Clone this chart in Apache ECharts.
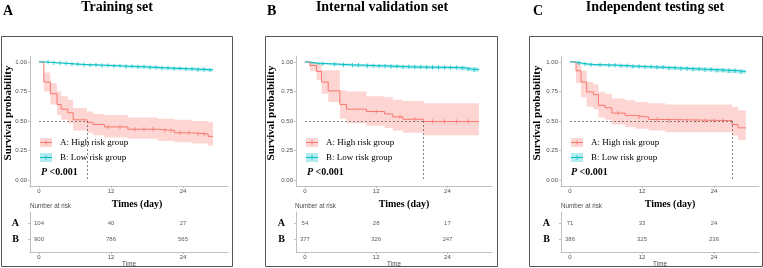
<!DOCTYPE html>
<html>
<head>
<meta charset="utf-8">
<script src="https://cdn.jsdelivr.net/npm/echarts@6/dist/echarts.min.js"></script>
<style>
html, body { margin: 0; padding: 0; background: #fff; }
#main { width: 763px; height: 268px; }
</style>
</head>
<body>
<div id="main"></div>
<script>
var panelLetters = ['A', 'B', 'C'];
var panelTitles = ['Training set', 'Internal validation set', 'Independent testing set'];
var groupNames = ['A: High risk group', 'B: Low risk group'];
var pValueText = '<0.001';
var xTicks = [0, 12, 24];
var yTicks = [0, 0.25, 0.5, 0.75, 1];
var riskRows = ['B', 'A'];

// training set
var highTimeA = [0, 0.8, 1.9, 3.0, 3.7, 4.8, 5.7, 8.0, 9.0, 10.9, 14.8, 19.8, 22.6, 25.4, 28.2, 29];
var highSurvA = [1, 0.83, 0.73, 0.64, 0.60, 0.57, 0.51, 0.49, 0.47, 0.45, 0.43, 0.42, 0.40, 0.39, 0.37, 0.37];
var highUpA   = [1, 0.91, 0.82, 0.75, 0.71, 0.68, 0.61, 0.58, 0.56, 0.55, 0.53, 0.52, 0.51, 0.50, 0.49, 0.49];
var highLoA   = [1, 0.75, 0.64, 0.55, 0.51, 0.48, 0.42, 0.40, 0.38, 0.36, 0.35, 0.33, 0.32, 0.31, 0.29, 0.29];
var highCensorA = [11.5, 13.5, 16, 17.5, 19, 21, 22, 23.5, 25, 26.5, 27.5];
var lowTimeA = [0, 1, 2, 3, 4, 5, 6, 7, 8, 10, 12, 14, 16, 18, 20, 22, 24, 26, 28, 29];
var lowSurvA = [1, 0.997, 0.993, 0.99, 0.987, 0.983, 0.98, 0.977, 0.974, 0.97, 0.966, 0.962, 0.958, 0.953, 0.948, 0.944, 0.94, 0.936, 0.932, 0.932];
var lowUpA   = [1, 0.999, 0.997, 0.995, 0.993, 0.99, 0.987, 0.985, 0.982, 0.979, 0.976, 0.972, 0.969, 0.965, 0.96, 0.957, 0.953, 0.949, 0.945, 0.945];
var lowLoA   = [1, 0.993, 0.988, 0.984, 0.98, 0.976, 0.972, 0.969, 0.965, 0.961, 0.956, 0.951, 0.947, 0.941, 0.936, 0.931, 0.927, 0.922, 0.918, 0.918];
var lowCensorA = [1.5, 2.5, 3.5, 4.5, 5.5, 6.5, 7.5, 8.5, 9.5, 10.5, 11.5, 12.5, 13.5, 14.5, 15.5, 16.5, 17.5, 18.5, 19.5, 20.5, 21.5, 22.5, 23.5, 24.5, 25.5, 26.5, 27.5, 28.5];
var medianA = 8.0;
var riskHighA = [104, 40, 27];
var riskLowA = [900, 786, 565];

// internal validation set
var highTimeB = [0, 0.84, 1.96, 2.8, 3.92, 5.88, 7.0, 10.36, 13.4, 14.8, 16.5, 20.0, 29.3];
var highSurvB = [1, 0.97, 0.92, 0.83, 0.755, 0.64, 0.60, 0.58, 0.56, 0.535, 0.515, 0.495, 0.495];
var highUpB   = [1, 1.0, 0.99, 0.93, 0.93, 0.76, 0.75, 0.71, 0.70, 0.68, 0.67, 0.65, 0.65];
var highLoB   = [1, 0.92, 0.85, 0.73, 0.66, 0.52, 0.48, 0.46, 0.44, 0.42, 0.40, 0.38, 0.38];
var highCensorB = [12, 16, 18.5, 21.5, 23.5, 25.5, 27.5];
var lowTimeB = [0, 0.8, 2, 4, 6, 8, 10, 12, 14, 16, 18, 20, 22, 24, 26, 27.2, 28, 29.3];
var lowSurvB = [1, 0.99, 0.985, 0.98, 0.975, 0.972, 0.968, 0.966, 0.962, 0.958, 0.956, 0.955, 0.953, 0.952, 0.948, 0.94, 0.935, 0.935];
var lowUpB   = [1, 0.997, 0.993, 0.99, 0.986, 0.983, 0.98, 0.978, 0.975, 0.971, 0.969, 0.968, 0.967, 0.966, 0.963, 0.956, 0.952, 0.952];
var lowLoB   = [1, 0.98, 0.975, 0.969, 0.963, 0.959, 0.955, 0.952, 0.948, 0.944, 0.942, 0.941, 0.939, 0.937, 0.932, 0.923, 0.917, 0.917];
var lowCensorB = [3, 5, 6.5, 8, 9, 10.5, 11.5, 12.5, 13.5, 14.5, 15.5, 16.5, 17.5, 18.5, 19.5, 20.5, 21.5, 22.5, 23.5, 24.5, 25.5, 26.5, 27.5, 28.5];
var medianB = 20.0;
var riskHighB = [54, 28, 17];
var riskLowB = [377, 326, 247];

// independent testing set
var highTimeC = [0, 1.0, 1.84, 2.79, 3.9, 4.74, 5.85, 6.97, 9.2, 10.87, 13.1, 15.9, 27.0, 28.0, 29.3];
var highSurvC = [1, 0.925, 0.83, 0.746, 0.723, 0.632, 0.612, 0.567, 0.547, 0.533, 0.513, 0.503, 0.47, 0.442, 0.442];
var highUpC   = [1, 0.99, 0.925, 0.83, 0.81, 0.746, 0.73, 0.69, 0.675, 0.66, 0.65, 0.64, 0.62, 0.59, 0.59];
var highLoC   = [1, 0.82, 0.70, 0.62, 0.60, 0.53, 0.51, 0.47, 0.45, 0.434, 0.42, 0.405, 0.377, 0.34, 0.34];
var highCensorC = [8, 11.5, 14.5, 16.5, 18, 19.5, 21, 22.5, 24, 25.5];
var lowTimeC = [0, 1, 2, 3, 4, 6, 8, 10, 12, 14, 16, 18, 20, 22, 24, 26, 28, 29.3];
var lowSurvC = [1, 0.99, 0.982, 0.978, 0.975, 0.972, 0.967, 0.962, 0.958, 0.954, 0.949, 0.944, 0.94, 0.935, 0.93, 0.925, 0.918, 0.915];
var lowUpC   = [1, 0.997, 0.99, 0.987, 0.985, 0.982, 0.978, 0.974, 0.97, 0.967, 0.963, 0.958, 0.955, 0.951, 0.947, 0.942, 0.936, 0.934];
var lowLoC   = [1, 0.982, 0.973, 0.968, 0.964, 0.961, 0.955, 0.949, 0.945, 0.94, 0.934, 0.929, 0.924, 0.918, 0.912, 0.906, 0.899, 0.895];
var lowCensorC = [1.5, 2.5, 3.5, 5, 6.5, 7.5, 8.5, 9.5, 10.5, 11.5, 12.5, 13.5, 14.5, 15.5, 16.5, 17.5, 18.5, 19.5, 20.5, 21.5, 22.5, 23.5, 24.5, 25.5, 26.5, 27.5, 28.5];
var medianC = 27.0;
var riskHighC = [71, 33, 24];
var riskLowC = [386, 325, 236];

var panels = [
  { high: [highTimeA, highSurvA, highLoA, highUpA, highCensorA], low: [lowTimeA, lowSurvA, lowLoA, lowUpA, lowCensorA], median: medianA, risk: [riskHighA, riskLowA] },
  { high: [highTimeB, highSurvB, highLoB, highUpB, highCensorB], low: [lowTimeB, lowSurvB, lowLoB, lowUpB, lowCensorB], median: medianB, risk: [riskHighB, riskLowB] },
  { high: [highTimeC, highSurvC, highLoC, highUpC, highCensorC], low: [lowTimeC, lowSurvC, lowLoC, lowUpC, lowCensorC], median: medianC, risk: [riskHighC, riskLowC] }
];

// layout (pixels)
var layout = [
  { box: [1.5, 232.5], left: 30, width: 198, letterX: 3, titleX: 117, ylabX: 8, timesX: 137, nrX: 30, legX: 40, pX: 41 },
  { box: [265.5, 497.5], left: 296, width: 196, letterX: 267, titleX: 382, ylabX: 271, timesX: 404, nrX: 295, legX: 306, pX: 307 },
  { box: [529.5, 762.5], left: 561, width: 198, letterX: 533, titleX: 655, ylabX: 537, timesX: 670, nrX: 561, legX: 571, pX: 571 }
];

var RED = '#F8766D', BLUE = '#00BFC4';
var RED_BAND = 'rgba(248,118,109,0.3)', BLUE_BAND = 'rgba(0,191,196,0.3)';
var SERIF = '"Liberation Serif", "DejaVu Serif", serif';
var SANS = '"Liberation Sans", Arial, sans-serif';
var AXIS_GRAY = '#b0b0b0';
var LABEL_GRAY = '#4d4d4d';

function survAt(times, surv, t) {
  var s = surv[0];
  for (var k = 0; k < times.length; k++) {
    if (times[k] <= t) s = surv[k];
  }
  return s;
}

function bandRender(times, lo, up, color) {
  return function (params, api) {
    var pts = [];
    var k, t1;
    for (k = 0; k < times.length; k++) {
      t1 = k + 1 < times.length ? times[k + 1] : times[k];
      pts.push(api.coord([times[k], up[k]]), api.coord([t1, up[k]]));
    }
    for (k = times.length - 1; k >= 0; k--) {
      t1 = k + 1 < times.length ? times[k + 1] : times[k];
      pts.push(api.coord([t1, lo[k]]), api.coord([times[k], lo[k]]));
    }
    return { type: 'polygon', shape: { points: pts }, style: { fill: color } };
  };
}

var grids = [], xAxes = [], yAxes = [], series = [], graphics = [];

panels.forEach(function (p, i) {
  var L = layout[i];
  var km = 2 * i, tb = 2 * i + 1;

  grids.push({ left: L.left, top: 56, width: L.width, height: 130, outerBoundsMode: 'none' });
  grids.push({ left: L.left, top: 212, width: L.width, height: 40, outerBoundsMode: 'none' });

  [km, tb].forEach(function (g) {
    var ax = {
      gridIndex: g, type: 'value', min: -1.5, max: 31.5,
      axisLine: { show: true, onZero: false, lineStyle: { color: AXIS_GRAY, width: 0.8 } },
      axisTick: { show: true, customValues: xTicks, length: 2, lineStyle: { color: AXIS_GRAY, width: 0.8 } },
      axisLabel: { customValues: xTicks, fontSize: 6, margin: 2, color: LABEL_GRAY, fontFamily: SANS },
      splitLine: { show: false }
    };
    if (g === tb) {
      ax.name = 'Time';
      ax.nameLocation = 'middle';
      ax.nameGap = 9;
      ax.nameTextStyle = { fontSize: 6.3, color: LABEL_GRAY, fontFamily: SANS };
    }
    xAxes.push(ax);
  });

  yAxes.push({
    gridIndex: km, type: 'value', min: -0.05, max: 1.05,
    axisLine: { show: true, onZero: false, lineStyle: { color: AXIS_GRAY, width: 0.8 } },
    axisTick: { show: true, customValues: yTicks, length: 2, lineStyle: { color: AXIS_GRAY, width: 0.8 } },
    axisLabel: { customValues: yTicks, fontSize: 6, margin: 3, color: LABEL_GRAY, fontFamily: SANS,
      formatter: function (v) { return v.toFixed(2); } },
    splitLine: { show: false }
  });
  yAxes.push({
    gridIndex: tb, type: 'value', min: 0.2, max: 2.7,
    axisLine: { show: true, onZero: false, lineStyle: { color: AXIS_GRAY, width: 0.8 } },
    axisTick: { show: true, customValues: [1, 2], length: 2, lineStyle: { color: AXIS_GRAY, width: 0.8 } },
    axisLabel: { customValues: [1, 2], margin: 11, fontSize: 10, fontWeight: 'bold', color: '#000', fontFamily: SERIF,
      formatter: function (v) { return riskRows[v - 1]; } },
    splitLine: { show: false }
  });

  // confidence bands
  [[p.high, RED_BAND], [p.low, BLUE_BAND]].forEach(function (g) {
    var d = g[0];
    series.push({
      type: 'custom', xAxisIndex: km, yAxisIndex: km, silent: true, clip: true,
      renderItem: bandRender(d[0], d[2], d[3], g[1]),
      data: [[d[0][0], d[1][0]]], z: 1
    });
  });

  // survival curves
  [[p.high, RED], [p.low, BLUE]].forEach(function (g, gi) {
    var d = g[0];
    var s = {
      type: 'line', xAxisIndex: km, yAxisIndex: km, step: 'end', symbol: 'none', z: 3,
      lineStyle: { color: g[1], width: 1 },
      data: d[0].map(function (t, k) { return [t, d[1][k]]; })
    };
    if (gi === 0) {
      s.markLine = {
        silent: true, symbol: ['none', 'none'], label: { show: false },
        lineStyle: { type: [2, 2], color: '#666', width: 0.8 },
        data: [
          [{ coord: [0, 0.5] }, { coord: [p.median, 0.5] }],
          [{ coord: [p.median, 0.5] }, { coord: [p.median, 0] }]
        ]
      };
    }
    series.push(s);
    series.push({
      type: 'scatter', xAxisIndex: km, yAxisIndex: km, symbol: 'rect', symbolSize: [0.9, 4.5], z: 4,
      itemStyle: { color: g[1] }, silent: true,
      data: d[4].map(function (t) { return [t, survAt(d[0], d[1], t)]; })
    });
  });

  // number at risk
  var riskData = [];
  xTicks.forEach(function (t, k) {
    riskData.push([t, 2, p.risk[0][k]]);
    riskData.push([t, 1, p.risk[1][k]]);
  });
  series.push({
    type: 'scatter', xAxisIndex: tb, yAxisIndex: tb, symbolSize: 1, silent: true,
    itemStyle: { color: 'rgba(0,0,0,0)' },
    label: { show: true, position: 'inside', fontSize: 6, color: '#333', fontFamily: SANS,
      formatter: function (q) { return q.value[2]; } },
    data: riskData
  });

  // frame and texts
  graphics.push({ type: 'rect', shape: { x: L.box[0], y: 36.5, width: L.box[1] - L.box[0], height: 230 },
    style: { fill: 'none', stroke: '#555', lineWidth: 1 } });
  graphics.push({ type: 'text', x: L.letterX, y: 11.5,
    style: { text: panelLetters[i], font: 'bold 14px ' + SERIF, fill: '#000', textAlign: 'left', textVerticalAlign: 'middle' } });
  graphics.push({ type: 'text', x: L.titleX, y: 7.5,
    style: { text: panelTitles[i], font: 'bold 14px ' + SERIF, fill: '#000', textAlign: 'center', textVerticalAlign: 'middle' } });
  graphics.push({ type: 'text', x: L.ylabX, y: 113, rotation: Math.PI / 2,
    style: { text: 'Survival probability', font: 'bold 11px ' + SERIF, fill: '#000', textAlign: 'center', textVerticalAlign: 'middle' } });
  graphics.push({ type: 'text', x: L.timesX, y: 204,
    style: { text: 'Times (day)', font: 'bold 10px ' + SERIF, fill: '#000', textAlign: 'center', textVerticalAlign: 'middle' } });
  graphics.push({ type: 'text', x: L.nrX, y: 206,
    style: { text: 'Number at risk', font: '6.3px ' + SANS, fill: LABEL_GRAY, textAlign: 'left', textVerticalAlign: 'middle' } });

  [[RED, RED_BAND], [BLUE, BLUE_BAND]].forEach(function (c, gi) {
    var cy = 142.5 + gi * 15;
    graphics.push({ type: 'rect', shape: { x: L.legX, y: cy - 4.5, width: 12, height: 9 }, style: { fill: c[1] } });
    graphics.push({ type: 'line', shape: { x1: L.legX, y1: cy, x2: L.legX + 12, y2: cy }, style: { stroke: c[0], lineWidth: 1 } });
    graphics.push({ type: 'line', shape: { x1: L.legX + 6, y1: cy - 2.2, x2: L.legX + 6, y2: cy + 2.2 }, style: { stroke: c[0], lineWidth: 0.9 } });
    graphics.push({ type: 'text', x: L.legX + 20, y: cy,
      style: { text: groupNames[gi], font: '9px ' + SERIF, fill: '#000', textAlign: 'left', textVerticalAlign: 'middle' } });
  });
  graphics.push({ type: 'text', x: L.pX, y: 172,
    style: { text: 'P', font: 'italic bold 10px ' + SERIF, fill: '#000', textAlign: 'left', textVerticalAlign: 'middle' } });
  graphics.push({ type: 'text', x: L.pX + 8.6, y: 172,
    style: { text: pValueText, font: 'bold 10px ' + SERIF, fill: '#000', textAlign: 'left', textVerticalAlign: 'middle' } });
});

var chart = echarts.init(document.getElementById('main'));
chart.setOption({
  animation: false,
  backgroundColor: '#fff',
  grid: grids,
  xAxis: xAxes,
  yAxis: yAxes,
  series: series,
  graphic: { elements: graphics }
});
</script>
</body>
</html>
